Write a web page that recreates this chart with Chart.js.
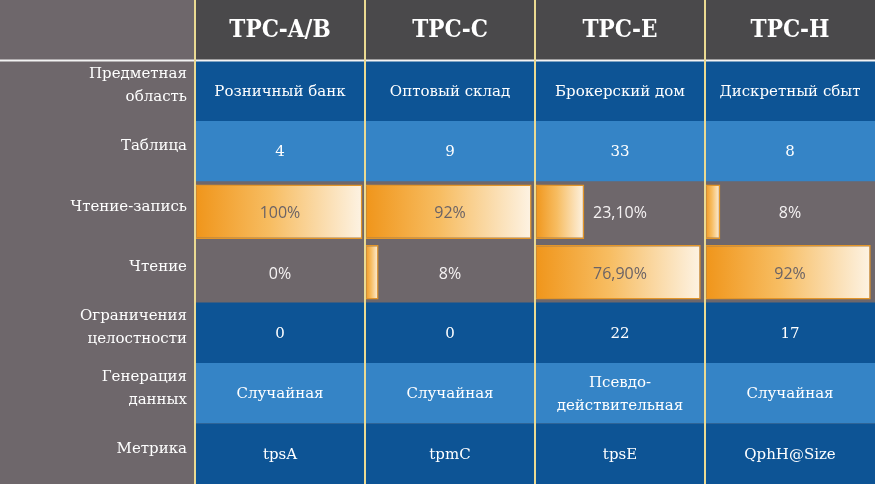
<!DOCTYPE html>
<html><head><meta charset="utf-8">
<script src="https://cdn.jsdelivr.net/npm/chart.js@4/dist/chart.umd.min.js"></script>
<style>html,body{margin:0;padding:0;background:#6e676b;overflow:hidden}#wrap{width:875px;height:484px;position:relative}</style>
</head><body><div id="wrap"><canvas id="c" width="875" height="484"></canvas></div>
<script>
// ---- data ----
const standards = ['TPC-A/B', 'TPC-C', 'TPC-E', 'TPC-H'];
const rowNames = ['', 'Предметная область', 'Таблица', 'Чтение-запись', 'Чтение', 'Ограничения целостности', 'Генерация данных', 'Метрика'];
const rowLines = [[''], ['Предметная', 'область'], ['Таблица'], ['Чтение-запись'], ['Чтение'], ['Ограничения', 'целостности'], ['Генерация', 'данных'], ['Метрика']];
const domains = ['Розничный банк', 'Оптовый склад', 'Брокерский дом', 'Дискретный сбыт'];
const tableCounts = ['4', '9', '33', '8'];
const readWriteShare = ['100%', '92%', '23,10%', '8%'];
const readShare = ['0%', '8%', '76,90%', '92%'];
// bar lengths as drawn in the picture (% of cell width)
const readWriteBar = [98.5, 98, 29, 9];
const readBar = [0, 8, 97.5, 97.5];
const constraints = ['0', '0', '22', '17'];
const generation = ['Случайная', 'Случайная', ['Псевдо-', 'действительная'], 'Случайная'];
const metrics = ['tpsA', 'tpmC', 'tpsE', 'QphH@Size'];

// ---- styles ----
const rowColors = ['#4a494b', '#0d5495', '#3584c6', '#6e676b', '#6e676b', '#0d5495', '#3584c6', '#0d5495'];
const SERIF = '"DejaVu Serif", serif';
const HEAD = '"DejaVu Serif Condensed", "DejaVu Serif", serif';
const SANS = '"Open Sans", "Noto Sans", sans-serif';

function barData(lengths, row) {
  return lengths.map((p, c) => p > 0 ? { x: [c, c + p / 100], y: rowNames[row] } : null).filter(Boolean);
}
function grad(ctx) {
  const chart = ctx.chart;
  if (ctx.type !== 'data' || !chart.chartArea) return '#f29a20';
  const xs = chart.scales.x;
  const x0 = xs.getPixelForValue(ctx.raw.x[0]);
  const x1 = xs.getPixelForValue(ctx.raw.x[1]);
  const g = chart.ctx.createLinearGradient(x0, 0, x1, 0);
  g.addColorStop(0, '#f0951a');
  g.addColorStop(0.45, '#f7bd62');
  g.addColorStop(1, '#fdf3e4');
  return g;
}

const tablePlugin = {
  id: 'table',
  beforeDraw(chart) {
    const { ctx, chartArea: a, scales: { y } } = chart;
    const rh = y.getPixelForValue(1) - y.getPixelForValue(0);
    ctx.save();
    ctx.fillStyle = '#6e676b';
    ctx.fillRect(0, 0, chart.width, chart.height);
    rowColors.forEach((col, i) => {
      const cy = y.getPixelForValue(i);
      ctx.fillStyle = col;
      ctx.fillRect(a.left, cy - rh / 2, a.right - a.left, rh);
    });
    ctx.fillStyle = '#f3f3f3';
    ctx.fillRect(0, y.getPixelForValue(0) + rh / 2 - 1, chart.width, 2);
    ctx.restore();
  },
  afterDatasetsDraw(chart) {
    const { ctx, scales: { x, y } } = chart;
    ctx.save();
    ctx.strokeStyle = '#eada92';
    ctx.lineWidth = 2;
    for (let c = 0; c < standards.length; c++) {
      const px = Math.round(x.getPixelForValue(c));
      ctx.beginPath(); ctx.moveTo(px, 0); ctx.lineTo(px, chart.height); ctx.stroke();
    }
    ctx.textAlign = 'center';
    ctx.textBaseline = 'middle';
    const cx = c => x.getPixelForValue(c + 0.5);
    const put = (txt, c, row, font, color, dy = 1) => {
      const lines = Array.isArray(txt) ? txt : [txt];
      ctx.font = font; ctx.fillStyle = color;
      const lh = 23;
      const y0 = y.getPixelForValue(row) + dy - (lines.length - 1) * lh / 2;
      lines.forEach((l, k) => ctx.fillText(l, cx(c), y0 + k * lh));
    };
    standards.forEach((s, c) => put(s, c, 0, 'bold 24px ' + HEAD, '#ffffff', 1));
    const cellFont = '15px ' + SERIF;
    domains.forEach((t, c) => put(t, c, 1, cellFont, '#ffffff'));
    tableCounts.forEach((t, c) => put(t, c, 2, cellFont, '#ffffff'));
    readWriteShare.forEach((t, c) => put(t, c, 3, '16px ' + SANS, readWriteBar[c] > 50 ? '#6b6366' : '#f5f2f3', 2));
    readShare.forEach((t, c) => put(t, c, 4, '16px ' + SANS, readBar[c] > 50 ? '#6b6366' : '#f5f2f3', 2));
    constraints.forEach((t, c) => put(t, c, 5, cellFont, '#ffffff'));
    generation.forEach((t, c) => put(t, c, 6, cellFont, '#ffffff'));
    metrics.forEach((t, c) => put(t, c, 7, cellFont, '#ffffff'));
    ctx.restore();
  }
};

new Chart(document.getElementById('c'), {
  type: 'bar',
  data: {
    labels: rowNames,
    datasets: [
      { label: 'Чтение-запись', data: barData(readWriteBar, 3) },
      { label: 'Чтение', data: barData(readBar, 4) }
    ].map(d => Object.assign(d, {
      grouped: false, backgroundColor: grad, borderColor: '#e39528', borderWidth: 1.5,
      borderSkipped: false, barPercentage: 0.9, categoryPercentage: 1
    }))
  },
  options: {
    indexAxis: 'y',
    responsive: false,
    devicePixelRatio: 1,
    animation: false,
    layout: { padding: 0 },
    plugins: { legend: { display: false }, tooltip: { enabled: false } },
    scales: {
      x: { type: 'linear', min: 0, max: standards.length, display: false },
      y: {
        type: 'category',
        grid: { display: false, drawTicks: false },
        border: { display: false },
        afterFit(s) { s.width = 195; s.paddingTop = 0; s.paddingBottom = 0; },
        ticks: {
          padding: 8,
          labelOffset: -5,
          color: '#ffffff',
          font: { family: SERIF, size: 15, lineHeight: 1.53 },
          callback: (v, i) => rowLines[i]
        }
      }
    }
  },
  plugins: [tablePlugin]
});
</script>
</body></html>
